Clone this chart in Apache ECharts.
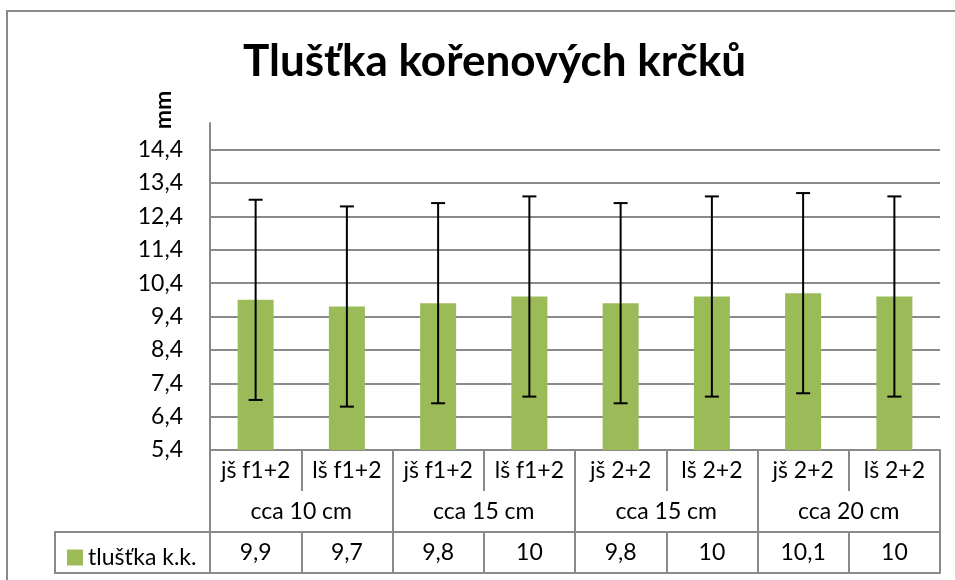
<!DOCTYPE html>
<html lang="cs">
<head>
    <meta charset="UTF-8">
    <title>Tlušťka kořenových krčků</title>
    <script src="https://cdn.jsdelivr.net/npm/echarts@6/dist/echarts.min.js"></script>
    <style>
        body { margin: 0; background: #fff; }
        #main { width: 955px; height: 580px; }
    </style>
</head>
<body>
<div id="main"></div>
<script type="text/javascript">
    // data
    var subCats = ['jš f1+2', 'lš f1+2', 'jš f1+2', 'lš f1+2', 'jš 2+2', 'lš 2+2', 'jš 2+2', 'lš 2+2'];
    var groups = ['cca 10 cm', 'cca 15 cm', 'cca 15 cm', 'cca 20 cm'];
    var values = [9.9, 9.7, 9.8, 10, 9.8, 10, 10.1, 10];
    var errors = [3, 3, 3, 3, 3, 3, 3, 3];
    var seriesName = 'tlušťka k.k.';

    var FONT = 'Lato, "Open Sans", sans-serif';
    var GRAY = '#8a8a8a';

    function fmt(v) {
        return String(v).replace('.', ',');
    }

    var myChart = echarts.init(document.getElementById('main'));

    var errData = values.map(function (v, i) {
        return [i, v - errors[i], v + errors[i]];
    });

    myChart.setOption({
        animation: false,
        textStyle: { fontFamily: FONT },
        title: {
            text: 'Tlušťka kořenových krčků',
            left: 238,
            top: 35,
            textStyle: { fontFamily: FONT, fontSize: 44, fontWeight: 'bold', color: '#000' }
        },
        legend: {
            data: [seriesName],
            left: 62,
            top: 541,
            icon: 'rect',
            itemWidth: 16,
            itemHeight: 16,
            itemGap: 6,
            textStyle: { fontFamily: FONT, fontSize: 23, color: '#000' }
        },
        grid: { left: 210, right: 15, top: 123, bottom: 130 },
        graphic: [
            // outer chart border (top + left visible)
            { type: 'rect', shape: { x: 7, y: 11, width: 1000, height: 700 },
              style: { fill: null, stroke: GRAY, lineWidth: 2 }, silent: true },
            // legend cell of the data table
            { type: 'rect', shape: { x: 55, y: 532, width: 155, height: 41 },
              style: { fill: null, stroke: GRAY, lineWidth: 2 }, silent: true },
            { type: 'text', x: 164, y: 110, rotation: Math.PI / 2,
              style: { text: 'mm', font: 'bold 23px ' + FONT, fill: '#000',
                       textAlign: 'center', textVerticalAlign: 'middle' } }
        ],
        xAxis: [
            {
                type: 'category', data: subCats, position: 'bottom',
                axisLine: { show: true, lineStyle: { color: GRAY, width: 2 } },
                axisTick: { show: true, interval: 0, length: 41, lineStyle: { color: GRAY, width: 2 } },
                axisLabel: { interval: 0, margin: 9, fontSize: 23, color: '#000', fontFamily: FONT }
            },
            {
                type: 'category', data: groups, position: 'bottom', offset: 0,
                axisLine: { show: false },
                axisTick: { show: true, interval: 0, length: 123, lineStyle: { color: GRAY, width: 2 } },
                axisLabel: { interval: 0, margin: 50, fontSize: 23, color: '#000', fontFamily: FONT }
            },
            {
                type: 'category', data: values.map(fmt), position: 'bottom', offset: 82,
                axisLine: { show: true, lineStyle: { color: GRAY, width: 2 } },
                axisTick: { show: true, interval: 0, length: 41, lineStyle: { color: GRAY, width: 2 } },
                axisLabel: { interval: 0, margin: 9, fontSize: 23, color: '#000', fontFamily: FONT }
            },
            {
                type: 'category', data: subCats, position: 'bottom', offset: 123,
                axisLine: { show: true, lineStyle: { color: GRAY, width: 2 } },
                axisTick: { show: false },
                axisLabel: { show: false }
            }
        ],
        yAxis: {
            type: 'value',
            min: 5.4,
            max: 15.2,
            interval: 1,
            axisLine: { show: true, lineStyle: { color: GRAY, width: 2 } },
            axisTick: { show: false },
            splitLine: { show: true, showMinLine: false, showMaxLine: false,
                         lineStyle: { color: GRAY, width: 2 } },
            axisLabel: {
                margin: 27, fontSize: 23, color: '#000', fontFamily: FONT,
                showMaxLabel: false,
                formatter: function (v) {
                    if (v > 14.5) return '';
                    return (Math.round(v * 10) / 10).toFixed(1).replace('.', ',');
                }
            }
        },
        series: [
            {
                name: seriesName,
                type: 'bar',
                xAxisIndex: 0,
                barWidth: 36,
                data: values,
                itemStyle: { color: '#9bbb59' }
            },
            {
                name: 'error',
                type: 'custom',
                xAxisIndex: 0,
                data: errData,
                z: 5,
                renderItem: function (params, api) {
                    var lo = api.coord([api.value(0), api.value(1)]);
                    var hi = api.coord([api.value(0), api.value(2)]);
                    var hw = 7;
                    var st = { stroke: '#000', lineWidth: 2 };
                    return {
                        type: 'group',
                        children: [
                            { type: 'line', shape: { x1: hi[0], y1: hi[1], x2: lo[0], y2: lo[1] }, style: st },
                            { type: 'line', shape: { x1: hi[0] - hw, y1: hi[1], x2: hi[0] + hw, y2: hi[1] }, style: st },
                            { type: 'line', shape: { x1: lo[0] - hw, y1: lo[1], x2: lo[0] + hw, y2: lo[1] }, style: st }
                        ]
                    };
                }
            }
        ]
    });
</script>
</body>
</html>
